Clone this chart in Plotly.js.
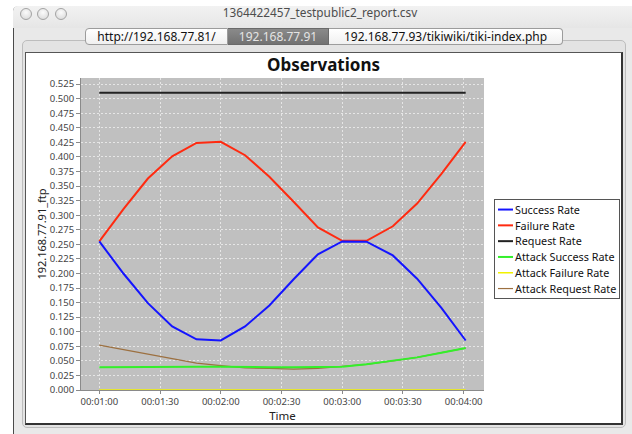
<!DOCTYPE html>
<html>
<head>
<meta charset="utf-8">
<script src="https://cdn.plot.ly/plotly-3.0.1.min.js"></script>
<style>
  html, body { margin:0; padding:0; width:632px; height:434px; overflow:hidden; background:#ffffff; font-family:"Noto Sans", sans-serif; }
  #win { position:absolute; left:13px; top:6px; width:640px; height:440px; background:#e9e9e9; border-left:1px solid #4a4a4a; border-top:1px solid #cfcfcf; border-top-left-radius:5px; box-sizing:border-box; }
  #titlebar { position:absolute; left:13px; top:6px; width:640px; height:22px; background:linear-gradient(#f2f2f2, #e6e6e6); border-top-left-radius:5px; }
  .light { position:absolute; top:8px; width:10px; height:10px; border-radius:50%; border:1px solid #a3a3a3; background:radial-gradient(circle at 50% 35%, #fbfbfb, #d6d6d6); }
  #wtitle { position:absolute; left:0; width:614px; top:-1px; line-height:14px; text-align:center; font-size:11.8px; color:#4d4d4d; white-space:nowrap; }
  #tabpane { position:absolute; left:22px; top:40px; width:604px; height:388px; border:1px solid #bdbdbd; border-radius:5px; background:#e3e3e3; box-sizing:border-box; }
  #tabs { position:absolute; left:85px; top:28px; height:17px; display:flex; }
  .tab { height:17px; box-sizing:border-box; border:1px solid #9c9c9c; border-left:none; background:linear-gradient(#ffffff, #f0f0f0); font-size:12px; line-height:15px; color:#111; text-align:center; white-space:nowrap; }
  .tab.first { border-left:1px solid #9c9c9c; border-radius:4px 0 0 4px; }
  .tab.last { border-radius:0 4px 4px 0; }
  .tab.sel { background:linear-gradient(#8a8a8a, #727272); color:#e4e4e4; border-color:#6a6a6a; }
  #panel { position:absolute; left:25px; top:52px; width:598px; height:373px; background:#ffffff; border:1px solid #555; border-right:2px solid #333; border-bottom:2px solid #333; box-sizing:border-box; }
  #chart { position:absolute; left:26px; top:53px; width:595px; height:370px; }
</style>
</head>
<body>
<div id="win"></div>
<div id="titlebar">
  <div id="wtitle">1364422457_testpublic2_report.csv</div>
</div>
<div class="light" style="left:20px"></div>
<div class="light" style="left:37px"></div>
<div class="light" style="left:55px"></div>
<div id="tabpane"></div>
<div id="tabs">
  <div class="tab first" style="width:143px">http://192.168.77.81/</div>
  <div class="tab sel" style="width:101px">192.168.77.91</div>
  <div class="tab last" style="width:234px">192.168.77.93/tikiwiki/tiki-index.php</div>
</div>
<div id="panel"></div>
<div id="chart"></div>
<script>
// ---- data ----
const day = '2013-03-27 ';
const times = ['00:01:00','00:01:12','00:01:24','00:01:36','00:01:48','00:02:00','00:02:12','00:02:24',
               '00:02:36','00:02:48','00:03:00','00:03:12','00:03:25','00:03:37','00:03:49','00:04:01'];
const successRate       = [0.255,0.1995,0.149,0.109,0.087,0.085,0.109,0.145,0.190,0.233,0.255,0.2545,0.231,0.191,0.141,0.085];
const failureRate       = [0.255,0.311,0.363,0.401,0.424,0.426,0.403,0.366,0.323,0.279,0.256,0.256,0.281,0.320,0.371,0.426];
const requestRate       = [0.510,0.510,0.510,0.510,0.510,0.510,0.510,0.510,0.510,0.510,0.510,0.510,0.510,0.510,0.510,0.510];
const attackSuccessRate = [0.039,0.0395,0.040,0.040,0.040,0.040,0.039,0.039,0.039,0.0395,0.040,0.044,0.050,0.056,0.064,0.072];
const attackFailureRate = [0,0,0,0,0,0,0,0,0,0,0,0,0,0,0,0];
const attackRequestRate = [0.077,0.069,0.061,0.053,0.046,0.042,0.038,0.037,0.036,0.037,0.040,0.044,0.050,0.056,0.064,0.072];

const seriesNames  = ['Success Rate','Failure Rate','Request Rate','Attack Success Rate','Attack Failure Rate','Attack Request Rate'];
const seriesValues = [successRate, failureRate, requestRate, attackSuccessRate, attackFailureRate, attackRequestRate];
const seriesColors = ['#1414ff','#ff2a10','#222222','#33f02a','#f2f200','#9c7040'];
const seriesWidths = [2, 2, 2, 2, 1.5, 1.2];

const chartTitle = 'Observations';
const xTitle = 'Time';
const yTitle = '192.168.77.91_ftp';

const xs = times.map(t => day + t);
// draw in reverse so the first series sits on top (as in the original)
const traces = [];
for (let i = seriesNames.length - 1; i >= 0; i--) {
  traces.push({
    type:'scatter', mode:'lines', name:seriesNames[i], x:xs, y:seriesValues[i],
    line:{color:seriesColors[i], width:seriesWidths[i]}, cliponaxis:false
  });
}

const tickFont = {family:'Noto Sans', size:9.5, color:'#444'};
const layout = {
  width:595, height:370,
  margin:{l:55, r:137, t:25, b:33, autoexpand:false},
  paper_bgcolor:'#ffffff', plot_bgcolor:'#c0c0c0',
  font:{family:'Noto Sans', color:'#222'},
  title:{text:'<b>' + chartTitle + '</b>', font:{family:'Noto Sans', size:17, color:'#111'},
         xref:'container', x:0.5, xanchor:'center', yref:'container', y:0.967, yanchor:'middle'},
  xaxis:{
    type:'date', range:[day + '00:00:50.95', day + '00:04:10.05'],
    tick0:day + '00:01:00', dtick:30000, tickformat:'%H:%M:%S',
    showgrid:true, gridcolor:'#e6e6e6', griddash:'2px,2px', gridwidth:1,
    showline:true, linecolor:'#8a8a8a', linewidth:1, layer:'below traces',
    ticks:'outside', ticklen:3, tickcolor:'#8a8a8a', tickfont:tickFont,
    zeroline:false, fixedrange:true, automargin:false,
    title:{text:xTitle, font:{family:'Noto Sans', size:11.5, color:'#222'}, standoff:0}
  },
  yaxis:{
    range:[0, 0.5355], tick0:0, dtick:0.025, tickformat:'.3f',
    showgrid:true, gridcolor:'#e6e6e6', griddash:'2px,2px', gridwidth:1,
    showline:true, linecolor:'#8a8a8a', linewidth:1,
    ticks:'outside', ticklen:4, tickcolor:'#8a8a8a', tickfont:tickFont,
    zeroline:false, fixedrange:true, automargin:false,
    title:{text:yTitle, font:{family:'Noto Sans', size:11, color:'#222'}, standoff:0}
  },
  showlegend:true,
  legend:{x:1.0248, xanchor:'left', y:0.612, yanchor:'top', traceorder:'reversed',
          bgcolor:'#ffffff', bordercolor:'#555', borderwidth:1,
          font:{family:'Noto Sans', size:10.8, color:'#111'}}
};

const gd = document.getElementById('chart');
Plotly.newPlot(gd, traces, layout, {displayModeBar:false, staticPlot:true}).then(compactLegend);

// Make the legend compact like the Swing/JFreeChart one: short line keys, tight rows.
function compactLegend() {
  const leg = gd.querySelector('.legend');
  if (!leg) return;
  const items = Array.from(leg.querySelectorAll('.traces'));
  const ty = el => { const m = /translate\(\s*[-\d.]+\s*,\s*([-\d.]+)/.exec(el.getAttribute('transform') || ''); return m ? +m[1] : 0; };
  items.sort((a, b) => ty(a) - ty(b));
  const rowH = 15.8, top = 10.5;
  let maxW = 0;
  items.forEach((it, i) => {
    it.setAttribute('transform', 'translate(1,' + (top + i * rowH) + ')');
    it.querySelectorAll('.legendlines path').forEach(p => { if (p.getAttribute('d')) p.setAttribute('d', 'M3,0h15'); });
    const t = it.querySelector('.legendtext');
    if (t) { t.setAttribute('x', 20); maxW = Math.max(maxW, t.getComputedTextLength()); }
    const tog = it.querySelector('.legendtoggle'); if (tog) tog.remove();
  });
  const w = Math.round(maxW + 24), h = Math.round(top + (items.length - 1) * rowH + 9.5);
  const bg = leg.querySelector('rect.bg');
  if (bg) { bg.setAttribute('width', w); bg.setAttribute('height', h); }
  leg.querySelectorAll('clipPath rect').forEach(r => { r.setAttribute('width', w + 4); r.setAttribute('height', h + 4); });
}
</script>
</body>
</html>
